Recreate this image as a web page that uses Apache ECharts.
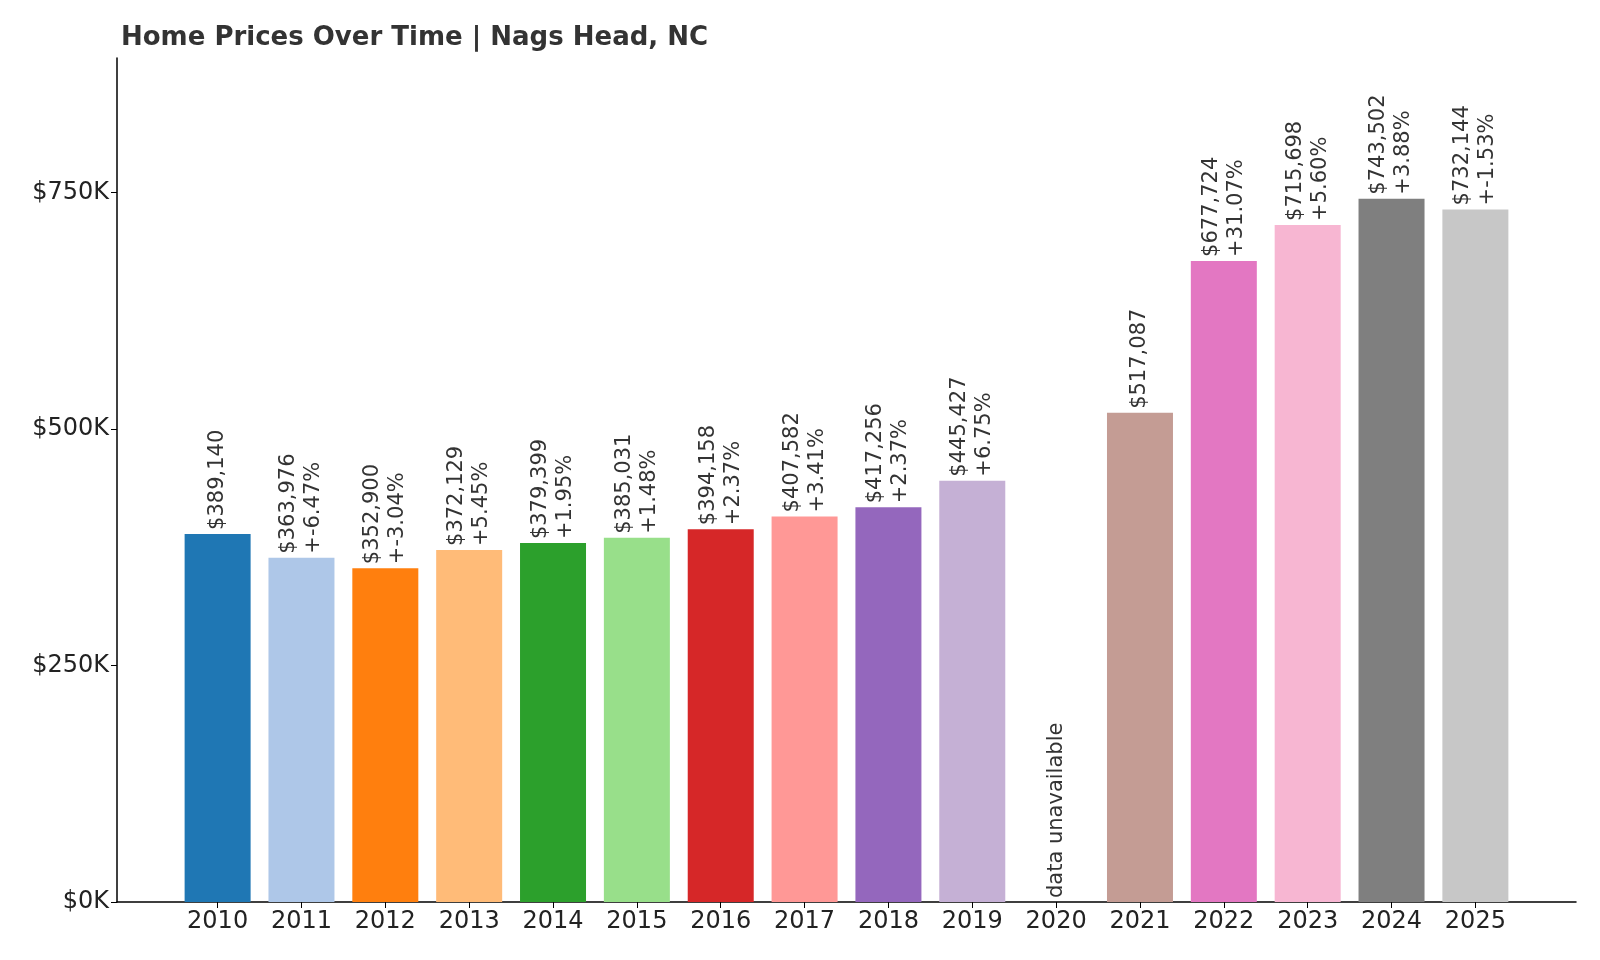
<!DOCTYPE html>
<html><head><meta charset="utf-8">
<script src="https://cdn.jsdelivr.net/npm/echarts@6/dist/echarts.min.js"></script>
<style>html,body{margin:0;padding:0;background:#fff}#c{width:1600px;height:960px}</style>
</head><body><div id="c"></div>
<script>
const years = ['2010','2011','2012','2013','2014','2015','2016','2017','2018','2019','2020','2021','2022','2023','2024','2025'];
const prices = [389140,363976,352900,372129,379399,385031,394158,407582,417256,445427,null,517087,677724,715698,743502,732144];
const changes = [null,'+-6.47%','+-3.04%','+5.45%','+1.95%','+1.48%','+2.37%','+3.41%','+2.37%','+6.75%',null,null,'+31.07%','+5.60%','+3.88%','+-1.53%'];
const colors = ['#1f77b4','#aec7e8','#ff7f0e','#ffbb78','#2ca02c','#98df8a','#d62728','#ff9896','#9467bd','#c5b0d5','#8c564b','#c49c94','#e377c2','#f7b6d2','#7f7f7f','#c7c7c7'];
const yTicks = [0,250000,500000,750000];

const fmt = v => '$' + v.toLocaleString('en-US');
const data = years.map((y,i)=>{
  if (prices[i] === null) {
    return {value:[i,0], itemStyle:{color:'transparent'},
      label:{formatter:'data unavailable'}};
  }
  return {value:[i,prices[i]], itemStyle:{color:colors[i]},
    label:{formatter: changes[i] ? fmt(prices[i]) + '\n' + changes[i] : fmt(prices[i])}};
});

const chart = echarts.init(document.getElementById('c'));
chart.setOption({
  animation:false,
  title:{text:'Home Prices Over Time | Nags Head, NC', left:116, top:20,
    textStyle:{fontFamily:'DejaVu Sans', fontSize:26, fontWeight:'bold', color:'#333'}},
  grid:{left:117, right:24, top:58, bottom:58},
  xAxis:{type:'value', min:-1.2, max:16.2,
    axisLine:{show:true, onZero:false, lineStyle:{color:'#000', width:1.5}},
    splitLine:{show:false},
    axisTick:{show:true, customValues:years.map((_,i)=>i), length:6, lineStyle:{color:'#000'}},
    axisLabel:{customValues:years.map((_,i)=>i), formatter:v=>years[Math.round(v)],
      fontFamily:'DejaVu Sans', fontSize:24, color:'#222', margin:8}},
  yAxis:{type:'value', min:0, max:892202, interval:250000,
    axisLine:{show:true, onZero:false, lineStyle:{color:'#000', width:1.5}},
    splitLine:{show:false},
    axisTick:{show:true, customValues:yTicks, length:6, lineStyle:{color:'#000'}},
    axisLabel:{customValues:yTicks, formatter:v=>'$'+(v/1000)+'K',
      fontFamily:'DejaVu Sans', fontSize:24, color:'#222', margin:8}},
  series:[{type:'bar', barWidth:66, data:data,
    label:{show:true, position:'top', rotate:90, align:'left', verticalAlign:'middle',
      distance:4, fontFamily:'DejaVu Sans', fontSize:21, color:'#333', lineHeight:25}}]
});
</script></body></html>
